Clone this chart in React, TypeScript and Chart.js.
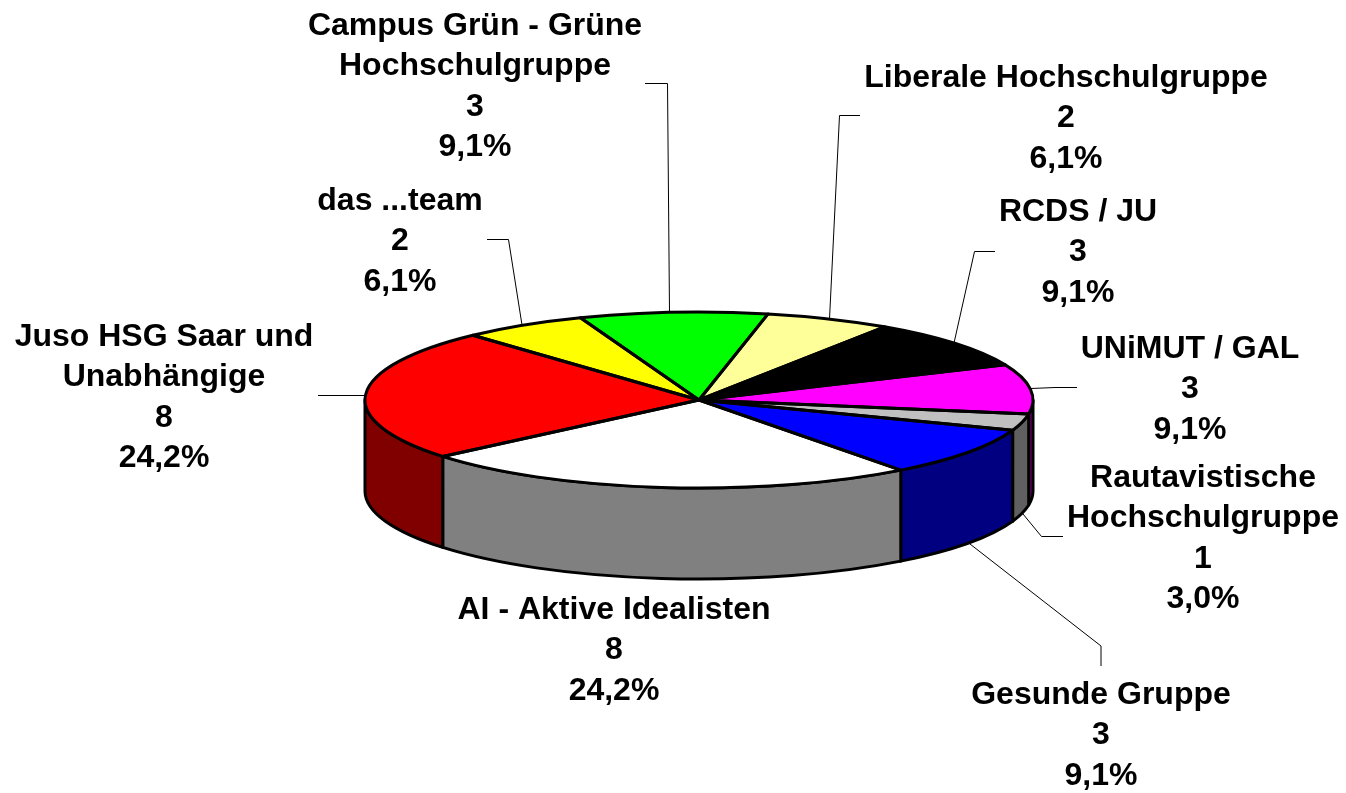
import React, { useEffect, useRef } from "react";
import { Chart, registerables } from "chart.js";

Chart.register(...registerables);

const categories = [
  ["Campus Grün - Grüne", "Hochschulgruppe"],
  ["Liberale Hochschulgruppe"],
  ["RCDS / JU"],
  ["UNiMUT / GAL"],
  ["Rautavistische", "Hochschulgruppe"],
  ["Gesunde Gruppe"],
  ["AI - Aktive Idealisten"],
  ["Juso HSG Saar und", "Unabhängige"],
  ["das ...team"],
];
const seats = [3, 2, 3, 3, 1, 3, 8, 8, 2];
const topColors = ["#00ff00", "#ffff99", "#000000", "#ff00ff", "#c0c0c0", "#0000ff", "#ffffff", "#ff0000", "#ffff00"];
const sideColors = ["#008000", "#808050", "#000000", "#800080", "#606060", "#000080", "#808080", "#800000", "#808000"];

const WIDTH = 1346;
const HEIGHT = 793;
const SQUASH = 88 / 334;
const DEPTH = 91;
const LINE_GAP = 40.4;

// label centre (x, y of the first line's middle)
const labelAnchors = [
  [475, 26], [1066, 78], [1078, 212], [1190, 349], [1203, 478],
  [1101, 695], [614, 610], [164, 337], [400, 201],
];
// leader polylines
const leaders = [
  [[645, 83.5], [667.5, 83.5], [669.5, 313]],
  [[860, 115.5], [839.5, 115.5], [829.5, 319]],
  [[995, 251.5], [974.5, 251.5], [954, 343]],
  [[1077, 387.5], [1055, 387.5], [1031, 388.5]],
  [[1063, 536.5], [1041.5, 536.5], [1023, 514]],
  [[1101, 666], [1101, 646], [970, 544]],
  null,
  [[318, 395.5], [340, 395.5], [365, 395.5]],
  [[487, 239.5], [508.5, 239.5], [522, 325]],
];

const pie3d = {
  id: "pie3d",
  beforeDatasetsDraw(chart: any) {
    const ctx = chart.ctx;
    const arcs = chart.getDatasetMeta(0).data;
    const { x: cx, y: cy, outerRadius: rx } = arcs[0];
    const ry = rx * SQUASH;
    ctx.save();
    ctx.lineWidth = 3;
    ctx.strokeStyle = "#000";
    ctx.lineJoin = "round";
    arcs.forEach((arc: any, i: number) => {
      const a = Math.max(arc.startAngle, 0);
      const b = Math.min(arc.endAngle, Math.PI);
      if (b <= a) return;
      ctx.beginPath();
      ctx.ellipse(cx, cy, rx, ry, 0, a, b);
      ctx.lineTo(cx + rx * Math.cos(b), cy + ry * Math.sin(b) + DEPTH);
      ctx.ellipse(cx, cy + DEPTH, rx, ry, 0, b, a, true);
      ctx.closePath();
      ctx.fillStyle = sideColors[i];
      ctx.fill();
      ctx.stroke();
    });
    ctx.restore();
    ctx.save();
    ctx.translate(cx, cy);
    ctx.scale(1, SQUASH);
    ctx.translate(-cx, -cy);
  },
  afterDatasetsDraw(chart: any) {
    const ctx = chart.ctx;
    ctx.restore();
    const arcs = chart.getDatasetMeta(0).data;
    const { x: cx, y: cy, outerRadius: rx } = arcs[0];
    const ry = rx * SQUASH;
    ctx.save();
    ctx.lineWidth = 3;
    ctx.strokeStyle = "#000";
    ctx.lineJoin = "round";
    arcs.forEach((arc: any) => {
      ctx.beginPath();
      ctx.moveTo(cx, cy);
      ctx.ellipse(cx, cy, rx, ry, 0, arc.startAngle, arc.endAngle);
      ctx.closePath();
      ctx.stroke();
    });
    ctx.lineWidth = 1;
    leaders.forEach((pts) => {
      if (!pts) return;
      ctx.beginPath();
      pts.forEach(([x, y], k) => (k ? ctx.lineTo(x, y) : ctx.moveTo(x, y)));
      ctx.stroke();
    });
    const total = seats.reduce((s, v) => s + v, 0);
    ctx.fillStyle = "#000";
    ctx.font = 'bold 32px "Liberation Sans", Arial, sans-serif';
    ctx.textAlign = "center";
    ctx.textBaseline = "middle";
    categories.forEach((name, i) => {
      const pct = ((seats[i] / total) * 100).toFixed(1).replace(".", ",") + "%";
      const lines = [...name, String(seats[i]), pct];
      const [x, y] = labelAnchors[i];
      lines.forEach((t, k) => ctx.fillText(t, x, y + k * LINE_GAP));
    });
    ctx.restore();
  },
};

export default function App() {
  const ref = useRef<HTMLCanvasElement>(null);
  useEffect(() => {
    const chart = new Chart(ref.current!, {
      type: "pie",
      data: {
        labels: categories.map((c) => c.join(" ")),
        datasets: [{ data: seats, backgroundColor: topColors, borderWidth: 0 }],
      },
      options: {
        responsive: false,
        animation: false,
        events: [],
        rotation: -20.8,
        layout: { padding: { left: 365, right: 313, top: 66, bottom: 59 } },
        plugins: { legend: { display: false }, tooltip: { enabled: false } },
      },
      plugins: [pie3d],
    } as any);
    return () => chart.destroy();
  }, []);
  return (
    <div style={{ position: "absolute", left: 0, top: 0, width: WIDTH, height: HEIGHT, background: "#fff" }}>
      <canvas ref={ref} width={WIDTH} height={HEIGHT} style={{ display: "block" }} />
    </div>
  );
}
